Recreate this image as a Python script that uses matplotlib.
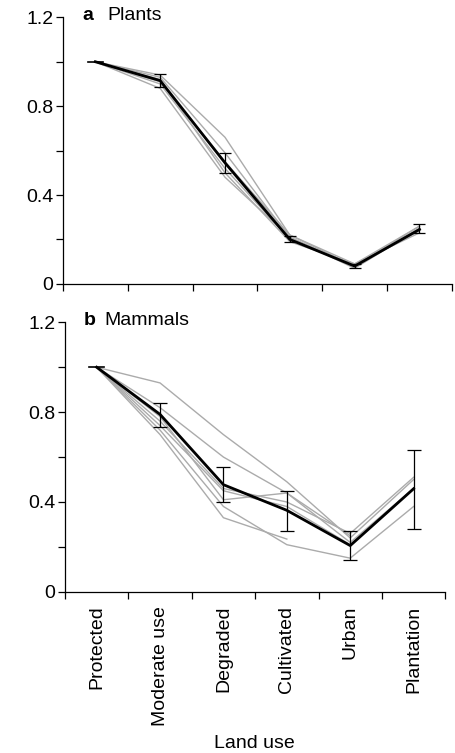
import numpy as np
import matplotlib.pyplot as plt
from matplotlib.ticker import MultipleLocator

plt.rcParams['font.family'] = ['Liberation Sans', 'DejaVu Sans']

land_use = ['Protected', 'Moderate use', 'Degraded', 'Cultivated', 'Urban', 'Plantation']

# panel a: plants
plants_mean = [1.0, 0.915, 0.545, 0.20, 0.08, 0.245]
plants_lo = [1.0, 0.885, 0.50, 0.19, 0.07, 0.23]
plants_hi = [1.0, 0.945, 0.59, 0.215, 0.09, 0.27]
plants_sets = [
    [1.0, 0.94, 0.66, 0.22, 0.09, 0.26],
    [1.0, 0.93, 0.59, 0.21, 0.08, 0.25],
    [1.0, 0.90, 0.52, 0.20, 0.08, 0.24],
    [1.0, 0.88, 0.48, 0.21, 0.07, 0.25],
    [1.0, 0.92, 0.50, 0.19, 0.09, 0.23],
    [1.0, 0.91, 0.55, 0.22, 0.08, 0.26],
]

# panel b: mammals
mammals_mean = [1.0, 0.79, 0.477, 0.363, 0.206, 0.459]
mammals_lo = [1.0, 0.736, 0.398, 0.270, 0.144, 0.281]
mammals_hi = [1.0, 0.84, 0.556, 0.449, 0.27, 0.63]
mammals_sets = [
    [1.0, 0.93, 0.70, 0.49, 0.24, 0.50],
    [1.0, 0.82, 0.60, 0.44, 0.22, 0.46],
    [1.0, 0.78, 0.41, 0.44, 0.25, np.nan],
    [1.0, 0.74, 0.45, 0.38, 0.21, 0.46],
    [1.0, 0.72, 0.38, 0.21, 0.15, 0.38],
    [1.0, 0.70, 0.33, 0.235, np.nan, np.nan],
    [1.0, 0.76, 0.46, 0.40, 0.26, 0.51],
]

fig = plt.figure(figsize=(4.56, 7.53), dpi=100)
ax1 = fig.add_axes([0.138, 0.623, 0.853, 0.354])
ax2 = fig.add_axes([0.1425, 0.214, 0.834, 0.358])

x = np.arange(len(land_use)) + 0.5


def draw_panel(ax, sets, mean, lo, hi, letter, name, name_x, capsize):
    for s in sets:
        ax.plot(x, s, color='#ababab', lw=1.0, zorder=1)
    mean = np.array(mean)
    err_lo = mean - np.array(lo)
    err_hi = np.array(hi) - mean
    ax.plot(x, mean, color='black', lw=2.0, zorder=3)
    ax.errorbar(x[1:], mean[1:], yerr=[err_lo[1:], err_hi[1:]], fmt='none',
                ecolor='black', elinewidth=0.9, capsize=capsize, capthick=0.9, zorder=4)
    ax.plot([x[0] - 0.12, x[0] + 0.12], [mean[0], mean[0]], color='black', lw=1.2, zorder=4)
    ax.set_xlim(0, len(land_use))
    ax.set_ylim(0, 1.2)
    ax.set_yticks([0, 0.4, 0.8, 1.2])
    ax.set_yticklabels(['0', '0.4', '0.8', '1.2'])
    ax.yaxis.set_minor_locator(MultipleLocator(0.2))
    ax.set_xticks(np.arange(len(land_use) + 1))
    ax.set_xticklabels([])
    ax.tick_params(axis='both', which='major', length=5, width=0.9, labelsize=14, pad=2)
    ax.tick_params(axis='y', which='minor', length=5, width=0.9)
    for side in ['top', 'right']:
        ax.spines[side].set_visible(False)
    for side in ['left', 'bottom']:
        ax.spines[side].set_linewidth(0.9)
    ax.text(0.30, 1.21, letter, fontsize=14, fontweight='bold', va='center', ha='left')
    ax.text(name_x, 1.21, name, fontsize=14, va='center', ha='left')


draw_panel(ax1, plants_sets, plants_mean, plants_lo, plants_hi, 'a', 'Plants', 0.69, 4.3)
draw_panel(ax2, mammals_sets, mammals_mean, mammals_lo, mammals_hi, 'b', 'Mammals', 0.62, 5.2)

ax2.set_xticks(x, minor=True)
ax2.set_xticklabels(land_use, minor=True, rotation=90, fontsize=14)
ax2.tick_params(axis='x', which='minor', length=0, pad=10)
fig.text(0.557, 1 - 744 / 753, 'Land use', fontsize=14, ha='center', va='center')

fig.savefig('out.png', dpi=100)
